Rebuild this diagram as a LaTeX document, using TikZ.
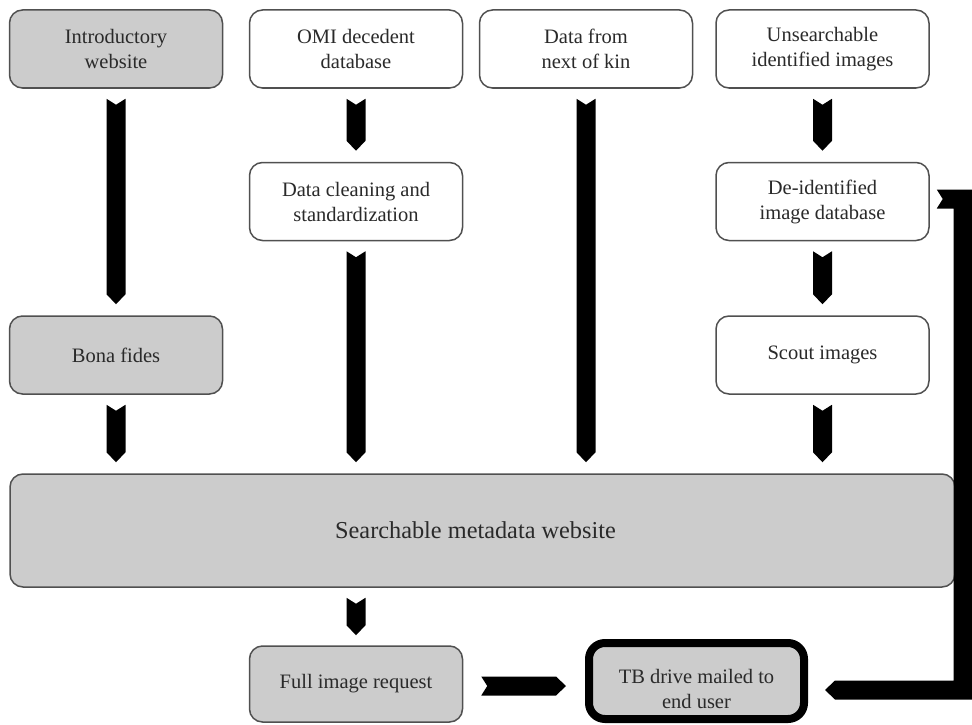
\documentclass[tikz,border=0pt]{standalone}
\usepackage{fontspec}
\setmainfont{Liberation Serif}
\usetikzlibrary{calc}
\definecolor{boxgray}{HTML}{CCCCCC}
\definecolor{edgegray}{HTML}{505050}
\definecolor{txt}{HTML}{2A2A2A}
\begin{document}
\begin{tikzpicture}[x=1pt,y=-1pt,
  box/.style={draw=edgegray, line width=1.5pt, rounded corners=13pt,
    minimum width=213pt, minimum height=78pt, inner sep=0pt, align=center,
    font=\fontsize{20.5}{25}\selectfont, text=txt},
  whitebox/.style={box, fill=white},
  graybox/.style={box, fill=boxgray},
  chev/.style={fill=black, draw=none,
    to path={($(\tikztostart)!9.5pt!90:(\tikztotarget)$)
      -- ($(\tikztostart)!6pt!(\tikztotarget)$)
      -- ($(\tikztostart)!9.5pt!-90:(\tikztotarget)$)
      -- ($(\tikztotarget)!13.8pt!43.5:(\tikztostart)$)
      -- (\tikztotarget)
      -- ($(\tikztotarget)!13.8pt!-43.5:(\tikztostart)$)
      -- cycle}}]
\useasboundingbox (0,0) rectangle (972,725);

\node[graybox]  (intro)    at (116,49)    {Introductory\\website};
\node[whitebox] (omi)      at (356,49)    {OMI decedent\\database};
\node[whitebox] (kin)      at (586,49)    {Data from\\next of kin};
\node[whitebox] (unsearch) at (822.5,49)  {Unsearchable\\identified images};
\node[whitebox] (clean)    at (356,201.5) {Data cleaning and\\standardization};
\node[whitebox] (deid)     at (822.5,201.5) {De-identified\\image database};
\node[graybox]  (bona)     at (116,355)   {Bona fides};
\node[whitebox] (scout)    at (822.5,355) {Scout images};
\node[graybox, minimum width=945pt, minimum height=113pt,
      font=\fontsize{24.3}{28}\selectfont] (search) at (482.5,530.5)
      {\hspace*{-14pt}Searchable metadata website};
\node[graybox, minimum height=76pt] (full) at (356,684) {Full image request};
\node[graybox, draw=black, line width=8pt, rounded corners=16pt,
      minimum width=215pt, minimum height=76pt] (tb) at (696.5,681)
      {\rule{0pt}{30pt}TB drive mailed to\\end user};

\path[chev] ($(intro.south)+(0,10)$) to ($(bona.north)+(0,-11)$);
\path[chev] ($(bona.south)+(0,10)$) to ($(bona.south |- search.north)+(0,-11)$);
\path[chev] ($(omi.south)+(0,10)$) to ($(clean.north)+(0,-11)$);
\path[chev] ($(clean.south)+(0,10)$) to ($(clean.south |- search.north)+(0,-11)$);
\path[chev] ($(kin.south)+(0,10)$) to ($(kin.south |- search.north)+(0,-11)$);
\path[chev] ($(unsearch.south)+(0,10)$) to ($(deid.north)+(0,-11)$);
\path[chev] ($(deid.south)+(0,10)$) to ($(scout.north)+(0,-11)$);
\path[chev] ($(scout.south)+(0,10)$) to ($(scout.south |- search.north)+(0,-11)$);
\path[chev] ($(full.north |- search.south)+(0,10)$) to ($(full.north)+(0,-10)$);
\path[chev] ($(full.east)+(18,2)$) to ($(tb.west |- full.east)+(-19,2)$);

\coordinate (et) at ($(deid.east)+(7,-2.5)$);
\coordinate (eh) at ($(tb.east)+(17,9)$);
\coordinate (ex) at (963,0);
\fill ($(et)+(0,-9.5)$) -- ($(ex |- et)+(9.5,-9.5)$) -- ($(ex |- eh)+(9.5,9.5)$)
  -- ($(eh)+(10,9.5)$) -- (eh) -- ($(eh)+(10,-9.5)$)
  -- ($(ex |- eh)+(-9.5,-9.5)$) -- ($(ex |- et)+(-9.5,9.5)$)
  -- ($(et)+(0,9.5)$) -- ($(et)+(6,0)$) -- cycle;
\end{tikzpicture}
\end{document}
